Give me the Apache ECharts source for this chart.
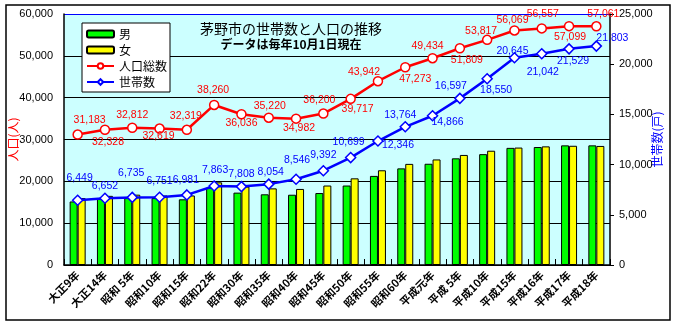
<!DOCTYPE html>
<html>
<head>
<meta charset="utf-8">
<script src="https://cdn.jsdelivr.net/npm/echarts@6/dist/echarts.min.js"></script>
<style>
html,body{margin:0;padding:0;background:#fff;}
#chart{width:677px;height:326px;}
</style>
</head>
<body>
<div id="chart"></div>
<script>
// ---- data ----
const categories = ['大正9年','大正14年','昭和 5年','昭和10年','昭和15年','昭和22年','昭和30年','昭和35年','昭和40年','昭和45年','昭和50年','昭和55年','昭和60年','平成元年','平成 5年','平成10年','平成15年','平成16年','平成17年','平成18年'];
const male = [15190, 15800, 16000, 16000, 15700, 18500, 17300, 16900, 16800, 17200, 19000, 21300, 23100, 24200, 25500, 26500, 28000, 28200, 28600, 28600];
const female = [15993, 16528, 16812, 16619, 16619, 19760, 18736, 18320, 18182, 19000, 20717, 22642, 24173, 25234, 26309, 27317, 28069, 28357, 28499, 28461];
const population = [31183, 32328, 32812, 32619, 32319, 38260, 36036, 35220, 34982, 36200, 39717, 43942, 47273, 49434, 51809, 53817, 56069, 56557, 57099, 57061];
const households = [6449, 6652, 6735, 6751, 6981, 7863, 7808, 8054, 8546, 9392, 10699, 12346, 13764, 14866, 16597, 18550, 20645, 21042, 21529, 21803];
const leftTicks = {min: 0, max: 60000, interval: 10000};
const rightTicks = {min: 0, max: 25000, interval: 5000};

// ---- label placement (style only) ----
const popLabelOffsets = [[12,-14],[3,12],[0,-13],[-1,8],[-1,-14],[-1,-15],[0,9],[1,-12],[3,9],[-4,-13],[7,10],[-14,-9],[10,12],[-5,-12],[7,12],[-6,-9],[-2,-10],[1,-14],[1,11],[7,-12]];
const hhLabelOffsets = [[2,-22],[0,-12],[-1,-24],[0,-16],[-1,-15],[1,-16],[0,-12],[2,-12],[1,-19],[0,-16],[-2,-15],[20,4],[-5,-12],[15,6],[-9,-12],[9,11],[-2,-7],[1,18],[4,12],[16,-8]];

function commas(v){ return String(v).replace(/\B(?=(\d{3})+(?!\d))/g, ','); }

const chart = echarts.init(document.getElementById('chart'));
const option = {
  animation: false,
  backgroundColor: '#ffffff',
  title: [
    {text: '茅野市の世帯数と人口の推移', left: 291, top: 22, textAlign: 'center', padding: 0,
     textStyle: {fontSize: 14, fontWeight: 'normal', color: '#000', fontFamily: 'Noto Sans CJK JP'}},
    {text: 'データは毎年10月1日現在', left: 291, top: 38, textAlign: 'center', padding: 0,
     textStyle: {fontSize: 12, fontWeight: 'bold', color: '#000', fontFamily: 'Noto Sans CJK JP'}}
  ],
  legend: {
    orient: 'vertical', left: 82, top: 23,
    data: ['男','女','人口総数','世帯数'],
    itemWidth: 27, itemHeight: 7, itemGap: 2,
    padding: [4, 3, 3, 4],
    backgroundColor: '#ffffff', borderColor: '#000', borderWidth: 1,
    textStyle: {fontSize: 12, color: '#000', fontFamily: 'Noto Sans CJK JP', lineHeight: 14}
  },
  graphic: [{type: 'rect', shape: {x: 6, y: 5, width: 664, height: 315}, style: {fill: 'none', stroke: '#000', lineWidth: 1.5}, z: 100}],
  grid: {left: 64, right: 67, top: 14, bottom: 61, show: true, backgroundColor: '#ccffff', borderWidth: 0,
         containLabel: false, outerBoundsMode: 'none'},
  xAxis: {
    type: 'category', data: categories,
    axisLine: {lineStyle: {color: '#000', width: 1.5}},
    axisTick: {show: true, inside: true, length: 6, alignWithLabel: false, lineStyle: {color: '#000'}},
    axisLabel: {rotate: 45, interval: 0, margin: 8, fontSize: 11, fontWeight: 'bold', color: '#000', fontFamily: 'Noto Sans CJK JP'}
  },
  yAxis: [
    {type: 'value', min: leftTicks.min, max: leftTicks.max, interval: leftTicks.interval,
     name: '人口(人)', nameLocation: 'middle', nameGap: 45, nameRotate: 90, nameMoveOverlap: false,
     nameTextStyle: {color: '#ff0000', fontSize: 12, fontFamily: 'Noto Sans CJK JP'},
     axisLine: {show: true, lineStyle: {color: '#000', width: 1.5}},
     axisTick: {show: false},
     axisLabel: {margin: 11, fontSize: 11, color: '#000', fontFamily: 'Liberation Sans', formatter: v => commas(v)},
     splitLine: {show: true, lineStyle: {color: ['#000','#000','#000','#000','#000','#000','#0000ff'], width: 1.2}}},
    {type: 'value', min: rightTicks.min, max: rightTicks.max, interval: rightTicks.interval, position: 'right',
     name: '世帯数(戸)', nameLocation: 'middle', nameGap: 41, nameRotate: 90, nameMoveOverlap: false,
     nameTextStyle: {color: '#0000ff', fontSize: 12, fontFamily: 'Noto Sans CJK JP'},
     axisLine: {show: true, lineStyle: {color: '#000', width: 1.5}},
     axisTick: {show: true, inside: false, length: 4, lineStyle: {color: '#000'}},
     axisLabel: {margin: 9, fontSize: 11, color: '#000', fontFamily: 'Liberation Sans', formatter: v => commas(v)},
     splitLine: {show: false}}
  ],
  series: [
    {name: '男', type: 'bar', data: male, yAxisIndex: 0, barWidth: 8, barGap: '0%',
     itemStyle: {color: '#00ff00', borderColor: '#000', borderWidth: 1}},
    {name: '女', type: 'bar', data: female, yAxisIndex: 0, barWidth: 8, barGap: '0%',
     itemStyle: {color: '#ffff00', borderColor: '#000', borderWidth: 1}},
    {name: '人口総数', type: 'line', yAxisIndex: 0,
     data: population.map((v, i) => ({value: v, label: {offset: popLabelOffsets[i]}})),
     symbol: 'circle', symbolSize: 9, showAllSymbol: true,
     lineStyle: {color: '#ff0000', width: 2.5},
     itemStyle: {color: '#ffffff', borderColor: '#ff0000', borderWidth: 1.5},
     label: {show: true, position: 'inside', color: '#ff0000', fontSize: 10.5, fontFamily: 'Liberation Sans', formatter: p => commas(p.value)},
     z: 5},
    {name: '世帯数', type: 'line', yAxisIndex: 1,
     data: households.map((v, i) => ({value: v, label: {offset: hhLabelOffsets[i]}})),
     symbol: 'diamond', symbolSize: [10, 10], showAllSymbol: true,
     lineStyle: {color: '#0000ff', width: 2.5},
     itemStyle: {color: '#ffffff', borderColor: '#0000ff', borderWidth: 1.5},
     label: {show: true, position: 'inside', color: '#0000ff', fontSize: 10.5, fontFamily: 'Liberation Sans', formatter: p => commas(p.value)},
     z: 5}
  ]
};
chart.setOption(option);
</script>
</body>
</html>
